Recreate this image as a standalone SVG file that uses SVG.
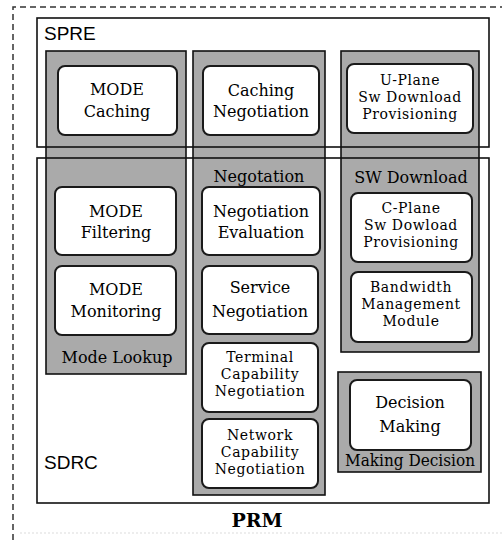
<svg xmlns="http://www.w3.org/2000/svg" width="502" height="540" viewBox="0 0 502 540">
  <style>
    .frame { fill: none; stroke: #333; stroke-width: 1.5; stroke-dasharray: 6 4; }
    .faint { fill: none; stroke: #e8e8e8; stroke-width: 1.5; stroke-dasharray: 2 2; }
    .area { fill: none; stroke: #111; stroke-width: 1.6; }
    .group { fill: #aaaaaa; stroke: #111; stroke-width: 1.6; }
    .box { fill: #ffffff; stroke: #1a1a1a; stroke-width: 2; }
    .t { font-family: "DejaVu Serif", "Liberation Serif", serif; font-size: 16px; fill: #000; text-anchor: middle; }
    .t3 { font-family: "DejaVu Serif", "Liberation Serif", serif; font-size: 14px; letter-spacing: 0.6px; fill: #000; text-anchor: middle; }
    .lbl { font-family: "DejaVu Serif", "Liberation Serif", serif; font-size: 16px; fill: #000; text-anchor: middle; }
    .area-lbl { font-family: "Liberation Sans", Arial, sans-serif; font-size: 19px; fill: #000; }
    .title { font-family: "DejaVu Serif", "Liberation Serif", serif; font-size: 19px; font-weight: bold; fill: #000; text-anchor: middle; }
  </style>

  <rect x="0" y="0" width="502" height="540" fill="#ffffff"/>

  <!-- PRM dashed boundary -->
  <g id="prm">
    <path class="frame" d="M13,540 V7 H502"/>
    <path class="faint" d="M20,533 H502"/>
    <text class="title" x="257" y="527">PRM</text>
  </g>

  <!-- grey functional groups -->
  <g id="mode-lookup">
    <rect class="group" x="46" y="51" width="140" height="323"/>
    <text class="lbl" x="117" y="363">Mode Lookup</text>
  </g>
  <g id="negotation">
    <rect class="group" x="193" y="51" width="132" height="444"/>
    <text class="lbl" x="259" y="182">Negotation</text>
  </g>
  <g id="sw-download">
    <rect class="group" x="341" y="51" width="138" height="301"/>
    <text class="lbl" x="411" y="183">SW Download</text>
  </g>
  <g id="making-decision">
    <rect class="group" x="338" y="372" width="143" height="100"/>
    <text class="lbl" x="410" y="466" textLength="130" lengthAdjust="spacingAndGlyphs">Making Decision</text>
  </g>

  <!-- SPRE and SDRC areas drawn over the groups -->
  <g id="spre">
    <rect class="area" x="37" y="18" width="452" height="129"/>
    <text class="area-lbl" x="44" y="40">SPRE</text>
  </g>
  <g id="sdrc">
    <rect class="area" x="37" y="158" width="452" height="345"/>
    <text class="area-lbl" x="44" y="469">SDRC</text>
  </g>

  <!-- modules -->
  <g id="mode-caching">
    <rect class="box" x="58" y="66" width="119" height="69" rx="7"/>
    <text class="t" x="117" y="95">MODE</text>
    <text class="t" x="117" y="117">Caching</text>
  </g>
  <g id="caching-negotiation">
    <rect class="box" x="203" y="66" width="116" height="69" rx="7"/>
    <text class="t" x="261" y="96">Caching</text>
    <text class="t" x="261" y="117">Negotiation</text>
  </g>
  <g id="u-plane">
    <rect class="box" x="347" y="64" width="126" height="69" rx="7"/>
    <text class="t3" x="410" y="85">U-Plane</text>
    <text class="t3" x="410" y="102">Sw Download</text>
    <text class="t3" x="410" y="119">Provisioning</text>
  </g>

  <g id="mode-filtering">
    <rect class="box" x="55" y="187" width="121" height="68" rx="7"/>
    <text class="t" x="116" y="217">MODE</text>
    <text class="t" x="116" y="238">Filtering</text>
  </g>
  <g id="mode-monitoring">
    <rect class="box" x="55" y="266" width="121" height="69" rx="7"/>
    <text class="t" x="116" y="295">MODE</text>
    <text class="t" x="116" y="317">Monitoring</text>
  </g>

  <g id="negotiation-evaluation">
    <rect class="box" x="202" y="187" width="118" height="68" rx="7"/>
    <text class="t" x="261" y="217">Negotiation</text>
    <text class="t" x="261" y="238">Evaluation</text>
  </g>
  <g id="service-negotiation">
    <rect class="box" x="202" y="266" width="116" height="68" rx="7"/>
    <text class="t" x="260" y="293">Service</text>
    <text class="t" x="260" y="317">Negotiation</text>
  </g>
  <g id="terminal-capability">
    <rect class="box" x="202" y="343" width="116" height="69" rx="7"/>
    <text class="t3" x="260" y="362">Terminal</text>
    <text class="t3" x="260" y="379">Capability</text>
    <text class="t3" x="260" y="396">Negotiation</text>
  </g>
  <g id="network-capability">
    <rect class="box" x="202" y="419" width="116" height="69" rx="7"/>
    <text class="t3" x="260" y="440">Network</text>
    <text class="t3" x="260" y="457">Capability</text>
    <text class="t3" x="260" y="474">Negotiation</text>
  </g>

  <g id="c-plane">
    <rect class="box" x="351" y="193" width="121" height="69" rx="7"/>
    <text class="t3" x="411" y="213">C-Plane</text>
    <text class="t3" x="411" y="230">Sw Dowload</text>
    <text class="t3" x="411" y="247">Provisioning</text>
  </g>
  <g id="bandwidth-management">
    <rect class="box" x="351" y="272" width="121" height="70" rx="7"/>
    <text class="t3" x="411" y="292">Bandwidth</text>
    <text class="t3" x="411" y="309">Management</text>
    <text class="t3" x="411" y="326">Module</text>
  </g>

  <g id="decision-making">
    <rect class="box" x="350" y="380" width="121" height="70" rx="7"/>
    <text class="t" x="410" y="408">Decision</text>
    <text class="t" x="410" y="432">Making</text>
  </g>

  <!-- no connectors in this block diagram -->
  <g id="connectors"/>
</svg>
